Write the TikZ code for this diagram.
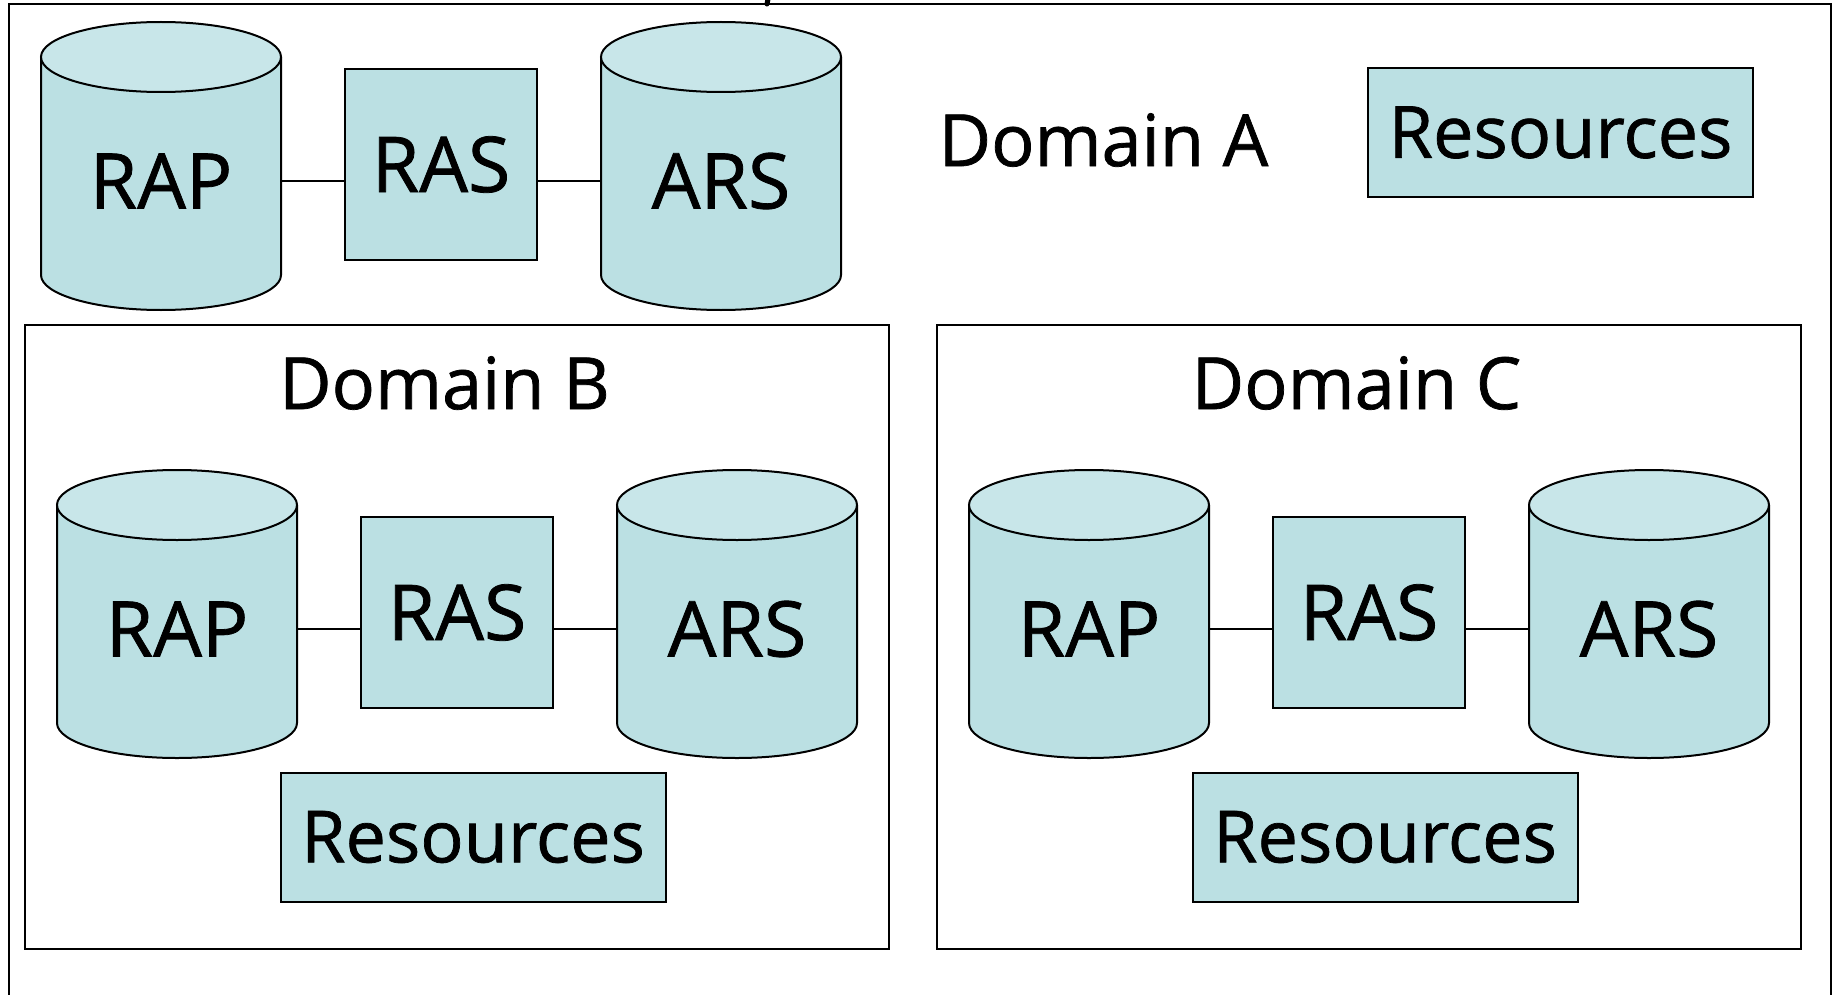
\documentclass[tikz,border=0pt]{standalone}
\usepackage{fontspec}
\setmainfont{Open Sans}[FakeBold=1]
\definecolor{cylbody}{RGB}{187,224,227}
\definecolor{cyltop}{RGB}{200,230,233}
\tikzset{
  lbl/.style={font=\fontsize{36}{40}\selectfont, inner sep=0pt, text=black},
  biglbl/.style={font=\fontsize{38.5}{42}\selectfont, inner sep=0pt, text=black},
  cyllbl/.style={biglbl, minimum width=120pt, minimum height=10pt},
  boxnode/.style={draw, line width=1pt, fill=cylbody, lbl},
  rasbox/.style={boxnode, biglbl, minimum width=96pt, minimum height=95.5pt},
  resbox/.style={boxnode, minimum width=192.5pt, minimum height=64.5pt},
  framebox/.style={draw, line width=1.1pt},
  link/.style={draw, line width=1pt},
}
% name, centre x, top-ellipse centre y (px, downwards), label
\newcommand\dbcyl[4]{%
  \filldraw[fill=cylbody, line width=1pt] ({#2-120},{-#3}) -- ({#2-120},{-#3-218})
     arc[start angle=180, end angle=360, x radius=120, y radius=35] -- ({#2+120},{-#3});
  \filldraw[fill=cyltop, line width=1pt] (#2,{-#3}) ellipse [x radius=120, y radius=35];
  \node[cyllbl] (#1) at (#2,{-#3-124}) {#4};
}
\begin{document}
\begin{tikzpicture}[x=0.5pt, y=0.5pt]
\useasboundingbox (0,0) rectangle (1837,-995);
\fill[white] (0,0) rectangle (1837,-995);
% cut-off title fragment
\draw[line width=2.5pt, line cap=round] (768,1) -- (767,-4);
% outer frame
\draw[framebox] (9,-1000) -- (9,-4) -- (1831,-4) -- (1831,-1000);

% ---- Domain A ----
\dbcyl{rapA}{161}{57}{RAP}
\dbcyl{arsA}{721}{57}{ARS}
\node[rasbox] (rasA) at (441,-164.5) {RAS};
\draw[link] (rapA.east) -- (rapA.east -| rasA.west);
\draw[link] (rasA.east |- arsA.west) -- (arsA.west);
\node[lbl] (domA) at (1103.5,-140) {Domain A};
\node[resbox] (resA) at (1560.5,-132.5) {Resources};

% ---- Domain B ----
\draw[framebox] (25,-325) rectangle (889,-949);
\node[lbl] (domB) at (444.5,-383) {Domain B};
\dbcyl{rapB}{177}{505}{RAP}
\dbcyl{arsB}{737}{505}{ARS}
\node[rasbox] (rasB) at (457,-612.5) {RAS};
\draw[link] (rapB.east) -- (rapB.east -| rasB.west);
\draw[link] (rasB.east |- arsB.west) -- (arsB.west);
\node[resbox] (resB) at (473,-837) {Resources};

% ---- Domain C ----
\draw[framebox] (937,-325) rectangle (1801,-949);
\node[lbl] (domC) at (1356.5,-383) {Domain C};
\dbcyl{rapC}{1089}{505}{RAP}
\dbcyl{arsC}{1649}{505}{ARS}
\node[rasbox] (rasC) at (1369,-612.5) {RAS};
\draw[link] (rapC.east) -- (rapC.east -| rasC.west);
\draw[link] (rasC.east |- arsC.west) -- (arsC.west);
\node[resbox] (resC) at (1385,-837) {Resources};
\end{tikzpicture}
\end{document}
